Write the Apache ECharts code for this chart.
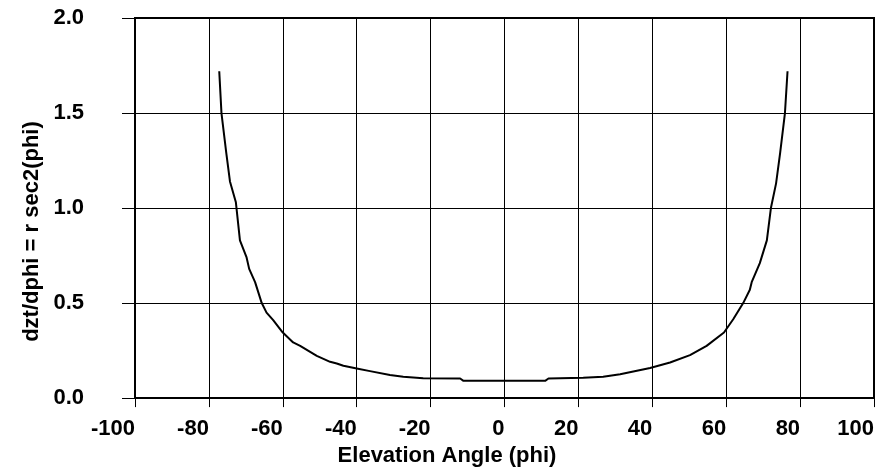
<!DOCTYPE html>
<html>
<head>
<meta charset="utf-8">
<script src="https://cdn.jsdelivr.net/npm/echarts@6/dist/echarts.min.js"></script>
<style>
  html, body { margin: 0; padding: 0; background: #fff; }
  #chart { width: 878px; height: 472px; }
</style>
</head>
<body>
<div id="chart"></div>
<script>
// === Data
const angles = [
    -77.2, -76.6, -75.3, -74.3, -72.7, -71.6, -69.8, -69.1, -67.5, -65.7,
    -64.4, -62.6, -60.0, -57.2, -55.3, -50.8, -47.2, -45.4, -43.6, -40.0,
    -36.4, -31.0, -27.4, -22.0, -12.0, -11.1, 11.0, 11.9, 21.3, 26.7,
    31.3, 39.4, 44.8, 50.2, 54.7, 59.4, 61.9, 64.6, 66.4, 66.9,
    69.1, 71.0, 72.1, 73.5, 74.6, 75.9, 76.6
];
const values = [
    1.72, 1.50, 1.29, 1.14, 1.03, 0.83, 0.74, 0.68, 0.61, 0.50,
    0.45, 0.41, 0.345, 0.293, 0.275, 0.222, 0.191, 0.182, 0.170, 0.156,
    0.142, 0.121, 0.112, 0.105, 0.103, 0.091, 0.091, 0.103, 0.107, 0.112,
    0.125, 0.158, 0.187, 0.226, 0.275, 0.345, 0.415, 0.50, 0.57, 0.61,
    0.71, 0.83, 1.00, 1.13, 1.29, 1.50, 1.72
];
const xTicks = [-100, 100, 20];   // min, max, step
const yTicks = [0, 2, 0.5];

const FONT = "'Liberation Sans', Arial, sans-serif";

const chart = echarts.init(document.getElementById('chart'));

const labelStyle = {
    color: '#000',
    fontFamily: FONT,
    fontWeight: 'bold',
    fontSize: 22
};

chart.setOption({
    animation: false,
    grid: {
        left: 135, right: 4, top: 18, bottom: 73,
        show: true, borderColor: '#000', borderWidth: 2
    },
    xAxis: {
        type: 'value',
        min: xTicks[0], max: xTicks[1], interval: xTicks[2],
        name: 'Elevation Angle (phi)',
        nameLocation: 'middle',
        nameGap: 35,
        nameTextStyle: Object.assign({}, labelStyle, { padding: [0, 115, 0, 0] }),
        axisLine: { onZero: false, lineStyle: { color: '#000', width: 2 } },
        axisTick: { length: 9, lineStyle: { color: '#000', width: 1 } },
        axisLabel: Object.assign({}, labelStyle, { margin: 20, align: 'right' }),
        splitLine: { lineStyle: { color: '#000', width: 1 } }
    },
    yAxis: {
        type: 'value',
        min: yTicks[0], max: yTicks[1], interval: yTicks[2],
        name: 'dzt/dphi = r sec2(phi)',
        nameLocation: 'middle',
        nameGap: 92,
        nameTextStyle: Object.assign({}, labelStyle, { padding: [0, 47, 0, 0] }),
        axisLine: { onZero: false, lineStyle: { color: '#000', width: 2 } },
        axisTick: { length: 13, lineStyle: { color: '#000', width: 1 } },
        axisLabel: Object.assign({}, labelStyle, {
            margin: 51,
            formatter: v => v.toFixed(1)
        }),
        splitLine: { lineStyle: { color: '#000', width: 1 } }
    },
    series: [{
        type: 'line',
        data: angles.map((a, i) => [a, values[i]]),
        showSymbol: false,
        lineStyle: { color: '#000', width: 2 }
    }]
});
</script>
</body>
</html>
